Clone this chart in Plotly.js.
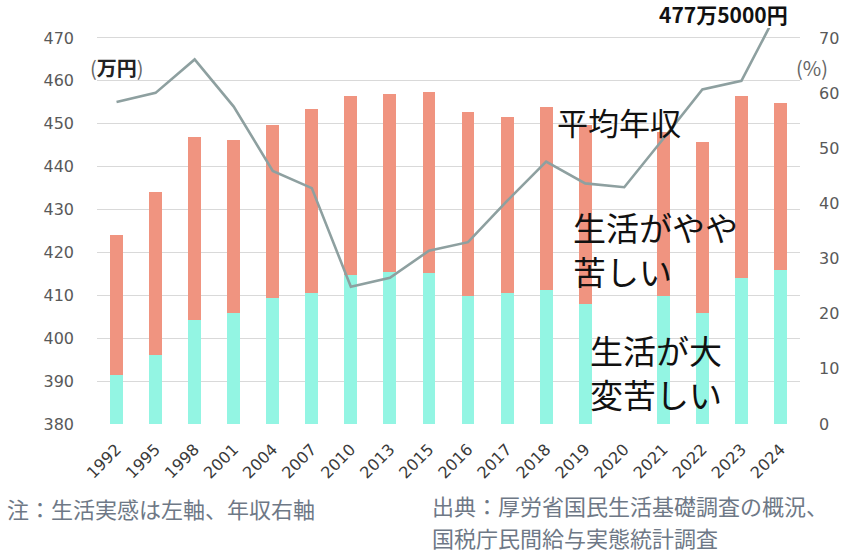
<!DOCTYPE html>
<html>
<head>
<meta charset="utf-8">
<script src="https://cdn.plot.ly/plotly-3.0.1.min.js"></script>
<style>
  html, body { margin: 0; padding: 0; background: #fff; }
  #chart { width: 850px; height: 552px; }
</style>
</head>
<body>
<div id="chart"></div>
<script>
/* Survey years (2020: no 国民生活基礎調査 bar) */
var years = ['1992', '1995', '1998', '2001', '2004', '2007', '2010', '2013', '2015',
             '2016', '2017', '2018', '2019', '2020', '2021', '2022', '2023', '2024'];

/* 生活が大変苦しい (%) */
var veryHard = [8.9, 12.6, 18.9, 20.1, 22.9, 23.8, 27.1, 27.6, 27.3,
                23.3, 23.7, 24.3, 21.8, null, 23.2, 20.1, 26.4, 28.0];

/* 生活がやや苦しい (%) */
var somewhatHard = [25.3, 29.4, 33.1, 31.4, 31.3, 33.4, 32.3, 32.3, 32.9,
                    33.2, 32.0, 33.2, 32.4, null, 29.8, 31.1, 33.1, 30.3];

/* 平均年収 (万円) */
var income = [455.1, 457.2, 465.0, 454.0, 439.0, 435.0, 412.0, 414.1, 420.4,
              422.4, 432.0, 441.2, 436.1, 435.2, 446.5, 458.0, 460.0, 477.5];

var pctTicks = [0, 10, 20, 30, 40, 50, 60, 70];
var yenTicks = [380, 390, 400, 410, 420, 430, 440, 450, 460, 470];

(function () {
  'use strict';

  var TEAL   = '#93F5E3';
  var SALMON = '#F09480';
  var LINE   = '#8EA0A0';
  var NOTE   = '#6E7886';
  var FONT   = '"Noto Sans CJK JP", "Noto Sans", sans-serif';
  var NUMS   = '"DejaVu Sans", "Noto Sans", sans-serif';

  var teal = {
    x: years, y: veryHard, type: 'bar', yaxis: 'y',
    marker: { color: TEAL, line: { width: 0 } },
    showlegend: false, hoverinfo: 'skip',
  };
  var salmon = {
    x: years, y: somewhatHard, type: 'bar', yaxis: 'y',
    marker: { color: SALMON, line: { width: 0 } },
    showlegend: false, hoverinfo: 'skip',
  };
  var line = {
    x: years, y: income, type: 'scatter', mode: 'lines', yaxis: 'y2',
    line: { color: LINE, width: 2.6 },
    connectgaps: true,
    showlegend: false, hoverinfo: 'skip',
  };

  /* text labels placed in paper coords (one annotation per line) */
  var annotations = [
    { x: -0.013, y: 0.899,
      text: '<span style="color:#666">(</span><b>万円</b><span style="color:#666">)</span>',
      font: { size: 20, color: '#222' } },
    { x: 0.991, y: 0.899, text: '(%)', font: { size: 20, color: '#666' } },
    { x: 0.986, y: 1.036, xanchor: 'right',
      text: '<b>477万5000円</b>', font: { size: 21, color: '#111' } },
    { x: 0.651, y: 0.765, text: '平均年収', font: { size: 31, color: '#111' } },
    { x: 0.674, y: 0.497, text: '生活がやや', font: { size: 33, color: '#111' } },
    { x: 0.674, y: 0.386, text: '苦しい', font: { size: 33, color: '#111' } },
    { x: 0.699, y: 0.187, text: '生活が大', font: { size: 33, color: '#111' } },
    { x: 0.699, y: 0.076, text: '変苦しい', font: { size: 33, color: '#111' } },
    { x: -0.131, y: -0.212, text: '注：生活実感は左軸、年収右軸',
      font: { size: 22, color: NOTE } },
    { x: 0.474, y: -0.205, text: '出典：厚労省国民生活基礎調査の概況、',
      font: { size: 22, color: NOTE } },
    { x: 0.474, y: -0.285, text: '国税庁民間給与実態統計調査',
      font: { size: 22, color: NOTE } },
  ].map(function (a) {
    a.xref = 'paper'; a.yref = 'paper'; a.showarrow = false;
    a.xanchor = a.xanchor || 'left';
    a.yanchor = 'middle';
    return a;
  });

  var layout = {
    width: 850, height: 552,
    margin: { l: 97, r: 50, t: 28, b: 128 },
    barmode: 'stack',
    bargap: 0.67,
    xaxis: {
      type: 'category',
      tickangle: -45,
      tickfont: { size: 16, color: '#3A3A3A', family: NUMS },
      ticklabelstandoff: 12,
      showgrid: false, zeroline: false, showline: false,
      fixedrange: true,
    },
    /* percent axis (bars) on the right */
    yaxis: {
      side: 'right',
      range: [0, 71.81],
      tickvals: pctTicks,
      tickfont: { size: 16, color: '#595959', family: NUMS },
      ticklabelstandoff: 18,
      showgrid: false, zeroline: false, showline: false,
      fixedrange: true,
    },
    /* 万円 axis (line) on the left */
    yaxis2: {
      side: 'left',
      overlaying: 'y',
      range: [380, 472.33],
      tickvals: yenTicks,
      tickfont: { size: 16, color: '#595959', family: NUMS },
      ticklabelstandoff: 22,
      showgrid: true, gridcolor: '#D9D9D9', gridwidth: 1,
      zeroline: false, showline: false,
      fixedrange: true,
    },
    annotations: annotations,
    showlegend: false,
    paper_bgcolor: '#fff',
    plot_bgcolor: 'rgba(0,0,0,0)',
    font: { family: FONT },
    dragmode: false,
  };

  Plotly.newPlot('chart', [teal, salmon, line], layout, {
    displayModeBar: false, staticPlot: true,
  });
})();
</script>
</body>
</html>
